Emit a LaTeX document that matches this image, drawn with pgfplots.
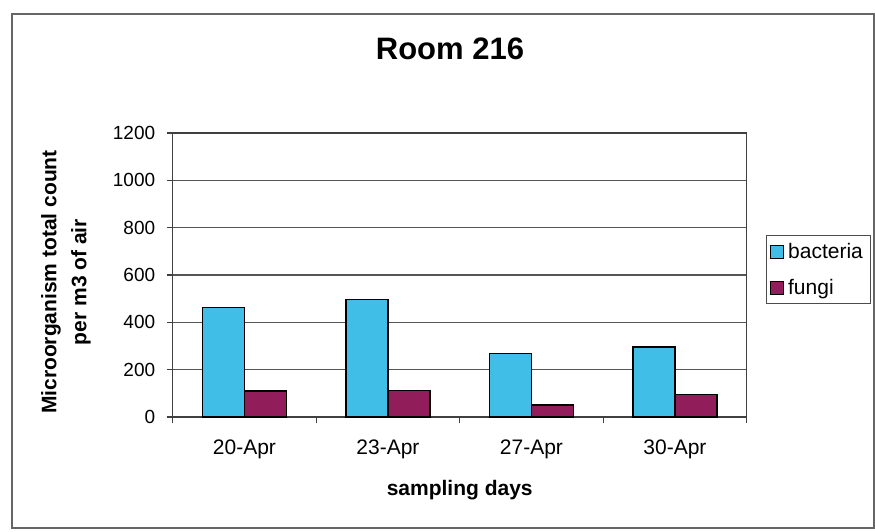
\documentclass[border=0pt]{standalone}
\usepackage{fontspec}
\setmainfont{Liberation Sans}
\usepackage{pgfplots}
\pgfplotsset{compat=1.18}
\definecolor{bact}{RGB}{64,190,232}
\definecolor{fung}{RGB}{145,30,90}
\definecolor{gridc}{RGB}{85,85,85}
\begin{document}
\begin{tikzpicture}[x=1pt,y=1pt]
\useasboundingbox (0pt,0pt) rectangle (875pt,531pt);
\draw[black!60, line width=1.2pt] (12pt,3pt) rectangle (874pt,517pt);
\node[font=\fontsize{31}{36}\selectfont\bfseries, anchor=base] at (450pt,471pt) {Room 216};
\begin{axis}[
  at={(172.7pt,114pt)}, anchor=south west,
  width=574pt, height=284pt, scale only axis,
  ybar=0pt, bar width=42pt,
  xmin=-0.5, xmax=3.5,
  ymin=0, ymax=1200,
  ytick={0,200,...,1200},
  xtick={0,1,2,3},
  xticklabels={20-Apr,23-Apr,27-Apr,30-Apr},
  minor xtick={-0.5,0.5,1.5,2.5,3.5},
  major x tick style={draw=none},
  minor tick length=6pt, major tick length=6pt,
  tick align=outside, tick pos=left,
  ymajorgrids,
  grid style={gridc, line width=1.2pt},
  axis line style={black!75, line width=1.2pt},
  tick style={black!75, line width=1.2pt},
  /pgf/number format/assume math mode=true,
  /pgf/number format/1000 sep={},
  yticklabel style={font=\fontsize{19}{22}\selectfont, xshift=-8pt},
  xticklabel style={font=\fontsize{21}{24}\selectfont, yshift=-13pt},
  ylabel={Microorganism total count\\per m3 of air},
  ylabel style={font=\fontsize{21}{30}\selectfont\bfseries, align=center, at={(rel axis cs:-0.186,0.475)}, anchor=center},
  xlabel={sampling days},
  xlabel style={font=\fontsize{21}{24}\selectfont\bfseries, at={(rel axis cs:0.5,-0.278)}, anchor=base},
  legend style={at={(rel axis cs:1.033,0.641)}, anchor=north west, draw=black!70, line width=1pt,
    font=\fontsize{21}{24}\selectfont, row sep=15pt, inner xsep=4pt, inner ysep=6pt,
    nodes={inner xsep=4pt}},
  legend cell align=left,
  legend image code/.code={\draw[#1, line width=1pt] (2pt,-6.5pt) rectangle (15pt,6.5pt);},
]
\addplot[fill=bact, draw=black, line width=1.5pt] coordinates {(0,462) (1,497) (2,268) (3,295)};
\addplot[fill=fung, draw=black, line width=1.5pt] coordinates {(0,110) (1,112) (2,51) (3,96)};
\legend{bacteria,fungi}
\end{axis}
\end{tikzpicture}
\end{document}
